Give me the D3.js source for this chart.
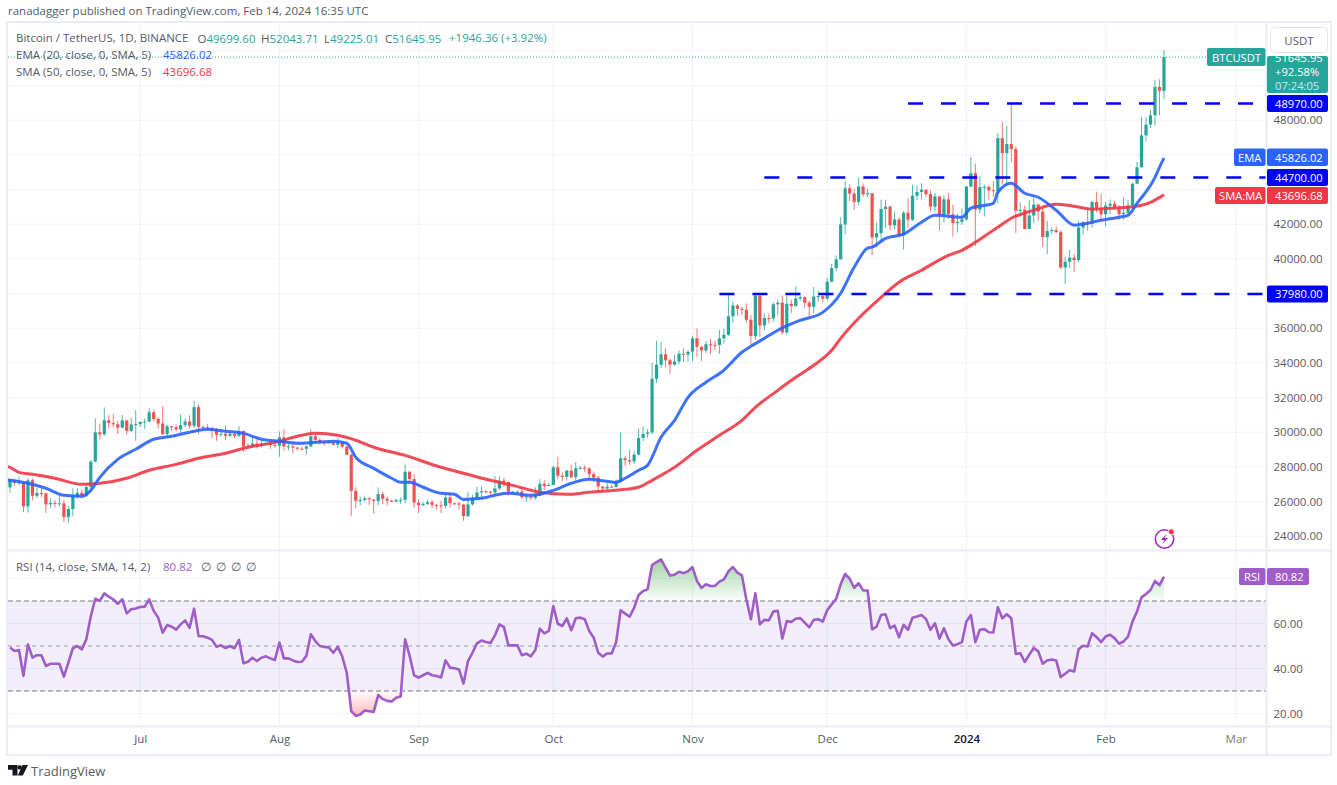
<!DOCTYPE html>
<html>
<head>
<meta charset="utf-8">
<script src="https://cdn.jsdelivr.net/npm/d3@7"></script>
<style>
html,body{margin:0;padding:0;background:#fff;overflow:hidden}
svg{display:block}
text{font-family:"Open Sans","Noto Sans",sans-serif}
</style>
</head>
<body>
<svg id="c" width="1337" height="785"></svg>
<script>
const firstDay = "2023-06-02";
const opens = [26820,27250,27075,27115,25730,27230,26340,26500,26480,25840,25925,25900,25900,25120,25575,26330,26510,26335,26840,28310,30000,29880,30690,30530,30460,30270,30690,30080,30450,
30470,30590,30620,31155,30770,30510,29895,30345,30290,30170,30410,30620,30380,31450,30310,30290,30230,30140,29860,29910,29800,29905,29795,30080,29175,29225,29350,29210,29315,29355,29275,
29230,29705,29185,29190,29115,29055,29050,29185,29765,29560,29425,29400,29415,29280,29410,29170,28700,26620,26050,26100,26190,26125,26050,26430,26160,26055,26010,26090,26105,27725,27300,
25940,25800,25870,25970,25815,25780,25755,26240,25905,25895,25830,25160,25840,26220,26530,26600,26570,26530,26760,27210,27130,26570,26575,26580,26250,26300,26215,26350,27030,26905,
26960,27980,27500,27430,27790,27410,27930,27955,27915,27590,27390,26875,26755,26860,26850,27155,28500,28395,28320,28715,29670,29910,29990,33085,33900,34500,34155,33900,34090,34530,34485,
34650,35420,34940,34720,35080,35045,35040,35420,35625,36690,37315,37130,37065,36490,35550,37880,36160,36595,36570,37385,37475,35760,37415,37290,37720,37795,37480,37240,37830,37855,
37710,38690,39475,39975,41990,44080,43770,43290,44180,43725,43790,41240,41490,42880,43020,41940,42280,41365,42660,42270,43650,43865,43995,43740,43015,43615,42520,43440,42580,42070,42140,
42285,44180,44945,42850,44150,44160,43965,43930,46970,46110,46630,46340,42780,42840,41730,42510,43140,42740,41260,41620,41665,41545,39505,39845,40075,39935,41815,42120,42030,43300,42940,
42580,43075,43185,42990,42580,42660,43090,44340,45290,47130,47750,48290,49920,49700];
const highs = [27300,27340,27450,27130,27350,27350,26800,26780,26530,26200,26090,26430,26080,25750,26770,26780,26700,27040,28400,30800,30500,31430,31000,31050,30660,31000,30700,30830,31280,
30650,30790,31380,31320,30880,31500,30450,30380,30450,31030,30800,30980,31820,31630,30400,30460,30340,30250,30190,30400,30050,29990,30350,30100,29380,29690,29580,29530,29415,29450,29530,
30050,30180,29410,29320,29150,29170,29245,30190,30000,29690,29540,29480,29470,29660,29480,29230,28780,26830,26290,26300,26260,26140,26820,26560,26290,26110,26180,26240,28140,27760,27580,
26130,25980,26130,26100,25860,26030,26440,26420,25940,25980,25880,26560,26390,26860,26890,26670,26630,27480,27490,27380,27160,26620,26640,26740,26450,26390,26820,27300,27230,27090,
28060,28580,27680,27830,28120,28290,28050,28100,27990,27740,27480,26840,27100,26980,27290,30000,28620,28980,28930,30210,30350,30200,34000,35280,35200,34820,34250,34480,34720,34850,34720,
35580,35980,34950,35260,35380,35280,35900,35990,37980,37530,37410,37230,37430,36770,37980,37980,36860,36850,37500,37650,37900,37870,37650,38420,37890,37840,37590,38380,38170,38000,
38890,39710,40200,42420,44490,44300,44050,44700,44360,44050,43800,42100,43430,43420,43090,42700,42430,42760,43500,44280,44240,44370,44000,43950,43800,43600,43680,43800,43130,42600,42900,
44190,45880,45500,44770,44300,44230,44500,47250,47900,47700,48970,46500,43250,43080,43400,43580,43200,42930,42200,41820,41880,41680,40130,40520,40300,42220,42200,42840,43300,43880,43750,
43290,43420,43380,43120,43540,43400,44400,45600,48200,48170,48590,50330,50370,52044];
const lows = [26510,26920,26950,25390,25360,26080,26200,26250,25350,25620,25660,25720,24820,24760,25170,26180,26170,26260,26660,28260,29600,29810,30250,30270,29900,30220,29880,30040,29500,
30310,30200,30580,30620,30200,29850,29700,30050,30060,29950,30280,30200,30250,29900,30250,30100,29660,29500,29750,29560,29720,29640,29730,28860,29050,29110,29070,29120,29260,29030,29110,
28585,28920,28960,28800,28960,28970,28700,29130,29350,29310,29240,29360,29260,29110,29060,28700,25170,25620,25800,26000,25810,25300,25800,25860,25780,25970,25970,25880,25910,27030,25660,
25330,25730,25810,25640,25560,25350,25620,25650,25800,25550,24900,25130,25770,26130,26220,26480,26390,26380,26680,26850,26350,26480,26500,26130,25990,26100,26110,26330,26670,26880,
26950,27300,27160,27210,27340,27180,27860,27690,27260,27120,26560,26560,26700,26820,26810,27130,28070,28130,28170,28670,29480,29680,29880,32850,33700,33740,33390,33860,33930,34050,34070,
34100,34350,34100,34580,34530,34730,34520,35110,35540,36330,36720,36760,36330,35050,35350,35510,35880,36290,36380,36740,35630,35630,36880,37250,37600,37160,36710,36880,37520,37500,
37630,38650,39290,39970,41420,43340,42820,43080,43580,43560,40220,40680,40970,41800,41650,41700,41250,40550,41800,42200,43390,43430,43580,42750,42720,41630,42100,42300,41300,41520,41970,
42190,44150,40750,42630,42450,43420,43600,43200,44300,44300,45600,41500,42430,41710,41720,42050,42200,40680,40280,41430,41500,39430,38550,39480,39260,39820,41400,41630,41800,42680,42280,
41880,42580,42880,42260,42260,42570,42790,44340,45250,46800,47560,47710,48300,49225];
const closes = [27250,27075,27115,25730,27230,26340,26500,26480,25840,25925,25900,25900,25120,25575,26330,26510,26335,26840,28310,30000,29880,30690,30530,30460,30270,30690,30080,30450,30470,
30590,30620,31155,30770,30510,29895,30345,30290,30170,30410,30620,30380,31450,30310,30290,30230,30140,29860,29910,29800,29905,29795,30080,29175,29225,29350,29210,29315,29355,29275,29230,
29705,29185,29190,29115,29055,29050,29185,29765,29560,29425,29400,29415,29280,29410,29170,28700,26620,26050,26100,26190,26125,26050,26430,26160,26055,26010,26090,26105,27725,27300,25940,
25800,25870,25970,25815,25780,25755,26240,25905,25895,25830,25160,25840,26220,26530,26600,26570,26530,26760,27210,27130,26570,26575,26580,26250,26300,26215,26350,27030,26905,26960,
27980,27500,27430,27790,27410,27930,27955,27915,27590,27390,26875,26755,26860,26850,27155,28500,28395,28320,28715,29670,29910,29990,33085,33900,34500,34155,33900,34090,34530,34485,34650,
35420,34940,34720,35080,35045,35040,35420,35625,36690,37315,37130,37065,36490,35550,37880,36160,36595,36570,37385,37475,35760,37415,37290,37720,37795,37480,37240,37830,37855,37710,
38690,39475,39975,41990,44080,43770,43290,44180,43725,43790,41240,41490,42880,43020,41940,42280,41365,42660,42270,43650,43865,43995,43740,43015,43615,42520,43440,42580,42070,42140,42285,
44180,44945,42850,44150,44160,43965,43930,46970,46110,46630,46340,42780,42840,41730,42510,43140,42740,41260,41620,41665,41545,39505,39845,40075,39935,41815,42120,42030,43300,42940,42580,
43075,43185,42990,42580,42660,43090,44340,45290,47130,47750,48290,49920,49700,51646];

const emaDays = [-1,0,4,8,12,16,18,20,24,28,32,36,40,44,48,52,56,60,64,68,72,75,77,81,85,87,89,92,96,99,101,105,108,111,116,121,125,129,133,135,137,140,142,145,148,151,155,159,163,165,168,171,176,181,185,188,191,192,195,199,203,206,212,214,219,220,223,226,229,233,237,240,243,247,249,251,255,256,257];
const emaValues = [27270,27230,27060,26770,26370,26310,26650,27400,28440,29020,29600,29770,30000,30170,30060,29940,29600,29480,29370,29420,29480,29370,28560,27920,27350,27120,27120,26830,26480,26420,26130,26190,26370,26480,26370,26650,27060,27290,27170,27120,27350,27810,28100,29710,30690,32020,32890,33580,34620,34960,35420,35890,36460,36920,38020,39520,40620,40680,41190,41430,42120,42520,42410,42930,43210,43850,44370,43790,43560,42810,41950,42060,42230,42410,42520,43210,44710,45290,45826];
const smaDays = [-1,0,2,5,10,16,20,26,31,37,42,48,53,59,65,68,73,77,81,88,96,101,107,112,118,124,129,137,140,143,148,153,158,163,166,171,175,179,183,185,189,194,198,203,209,212,215,218,220,223,228,233,237,241,245,249,254,257];
const smaValues = [28050,27980,27690,27580,27350,27000,27060,27350,27810,28150,28500,28790,29140,29420,29830,29940,29830,29540,29140,28670,27980,27640,27230,26940,26540,26420,26540,26710,26830,27230,27980,28960,29830,30690,31440,32420,33170,33870,34730,35420,36580,37790,38660,39350,40210,40500,40960,41480,41830,42350,42810,43160,43040,42870,42930,42980,43270,43697];

const rsiValues = [49.3,47.8,48.2,36.7,50.7,44.8,45.9,45.9,41.1,42.1,42.1,42.1,36.4,42.6,49,50,48.5,53,63.3,71,70,73.4,71.9,70.7,68.8,70.7,64.5,66.3,66.7,67.3,67.5,70.7,65.6,62.6,55.9,59.3,58.6,57.3,59.6,61.4,58.1,66.6,54.4,54.3,53.7,52.7,49.7,50.3,49.1,50,49,52.7,42.3,43,44.8,43.3,44.8,45.4,44.5,43.8,51.5,44.5,44.5,43.6,42.9,43,45.6,55.2,52.2,50,49.6,49.4,47,49.7,45.3,38.1,21.1,18.9,19.6,21.3,21,20.7,28.2,26.4,25.6,25.3,27,27.6,53,45.6,37,35.9,37,38.1,37,36.7,
36,43.6,40.4,40.1,39.6,33.3,43.3,47,51.2,52.4,51.8,51.3,54.7,59.6,58.4,50.3,50.3,50.3,45.9,46.6,45.4,48.2,57.7,55.6,56.7,67.8,59.9,58.9,62.3,57,62.3,62.6,61.9,56.7,53.7,47,45.3,46.7,46.7,51.8,65.9,64.4,63,67,72.7,74.4,75.2,86,87.3,88.5,84.8,81.3,81.7,83,82.4,83.2,85.1,78.9,75.8,77.4,76.7,76.7,78.6,79.6,83.2,85.1,82.6,81.4,70.7,61.9,73.4,59.6,61.6,61.4,65.3,65.6,53.3,61.1,60.7,62.1,62.4,60.4,58.3,61.6,61.9,60.8,65.9,68.5,71,77.4,82.1,79.9,75.9,77.9,74.7,74.7,57.4,58.6,
63.8,64.1,57.9,59.1,53.9,59.4,57.2,62.6,63.1,63.8,62,57.2,60.1,53.3,57.9,53,50.2,50.8,51.7,60.9,63.8,51.7,57.2,57.5,56.1,56,67.2,62.3,64.1,62.3,46.5,46.8,42.9,46.1,49.1,47.6,42.1,43.6,44,43.6,36.2,37.7,39.2,38.7,48.6,50.1,49.8,55.7,53.9,51.7,54.2,55,53.5,51,52,54.2,60.9,65.3,71.6,73.1,74.9,78.9,77.1,80.82];

const gridPrices = [24000,26000,28000,30000,32000,34000,36000,38000,40000,42000,44000,46000,48000,50000,52000];
const priceTicks = [24000,26000,28000,30000,32000,34000,36000,40000,42000,48000];
const rsiTicks = [20,40,60,80];
const rsiAxisTicks = [20,40,60];
const rsiLevels = [70,50,30];
const monthDates = ["2023-07-01","2023-08-01","2023-09-01","2023-10-01","2023-11-01","2023-12-01","2024-01-01","2024-02-01","2024-03-01"];
const monthLabels = ["Jul","Aug","Sep","Oct","Nov","Dec","2024","Feb","Mar"];
const levelValues = [48970,44700,37980];
const levelStartDays = [200,168,158];
const levelLabels = ["48970.00","44700.00","37980.00"];

const C = {up:"#26a69a",down:"#ef5350",ema:"#2962ff",sma:"#f23645",rsi:"#a05cc8",lvl:"#0000ff",grid:"#f0f3fa",frame:"#e9ecf3",txt:"#555a66"};
const L=8,R=1266,RR=1330,T=23,PB=550,RB=726,B=754;
const FS=11.5;

const svg=d3.select("#c");
const day=i=>d3.utcDay.offset(new Date(firstDay+"T00:00:00Z"),i);
const x=d3.scaleUtc().domain([new Date(firstDay+"T00:00:00Z"),new Date("2024-03-01T00:00:00Z")]).range([10,1235.8]);
const y=d3.scaleLinear().domain([24000,48000]).range([536.3,120.3]);
const yr=d3.scaleLinear().domain([20,80]).range([713.5,578.5]);
const X=i=>x(day(i));

const defs=svg.append("defs");
defs.append("clipPath").attr("id","pane").append("rect").attr("x",L).attr("y",T).attr("width",R-L).attr("height",PB-T);
defs.append("clipPath").attr("id","ob").append("rect").attr("x",L).attr("y",PB).attr("width",R-L).attr("height",yr(70)-PB);
defs.append("clipPath").attr("id","os").append("rect").attr("x",L).attr("y",yr(30)).attr("width",R-L).attr("height",RB-yr(30));
defs.append("clipPath").attr("id","priceBox").append("rect").attr("x",1267).attr("y",56).attr("width",61).attr("height",37);
const g1=defs.append("linearGradient").attr("id","gOb").attr("gradientUnits","userSpaceOnUse").attr("x1",0).attr("x2",0).attr("y1",yr(89)).attr("y2",yr(70));
g1.append("stop").attr("offset",0).attr("stop-color","#4caf50").attr("stop-opacity",.55);
g1.append("stop").attr("offset",1).attr("stop-color","#4caf50").attr("stop-opacity",.02);
const g2=defs.append("linearGradient").attr("id","gOs").attr("gradientUnits","userSpaceOnUse").attr("x1",0).attr("x2",0).attr("y1",yr(30)).attr("y2",yr(19));
g2.append("stop").attr("offset",0).attr("stop-color","#ff5252").attr("stop-opacity",.02);
g2.append("stop").attr("offset",1).attr("stop-color","#ff5252").attr("stop-opacity",.4);

/* grid */
const grid=svg.append("g").attr("stroke",C.grid).attr("stroke-width",1.2);
monthDates.forEach(d=>{const px=x(new Date(d+"T00:00:00Z"));
  grid.append("line").attr("x1",px).attr("x2",px).attr("y1",T).attr("y2",RB);});
gridPrices.forEach(v=>grid.append("line").attr("x1",L).attr("x2",R).attr("y1",y(v)).attr("y2",y(v)));
rsiTicks.forEach(v=>grid.append("line").attr("x1",L).attr("x2",R).attr("y1",yr(v)).attr("y2",yr(v)));

/* last price dotted */
svg.append("line").attr("x1",L).attr("x2",1208).attr("y1",y(closes[closes.length-1])).attr("y2",y(closes[closes.length-1]))
  .attr("stroke",C.up).attr("stroke-width",1).attr("stroke-dasharray","1 2");

/* candles */
const pane=svg.append("g").attr("clip-path","url(#pane)");
const idx=d3.range(closes.length);
pane.selectAll("line.w").data(idx).join("line").attr("class","w")
  .attr("x1",X).attr("x2",X).attr("y1",i=>y(highs[i])).attr("y2",i=>y(lows[i]))
  .attr("stroke",i=>closes[i]>=opens[i]?C.up:C.down).attr("stroke-width",1).attr("stroke-opacity",.8);
pane.selectAll("rect.b").data(idx).join("rect").attr("class","b")
  .attr("x",i=>X(i)-1.6).attr("width",3.2)
  .attr("y",i=>y(Math.max(opens[i],closes[i])))
  .attr("height",i=>Math.max(1,Math.abs(y(opens[i])-y(closes[i]))))
  .attr("fill",i=>closes[i]>=opens[i]?C.up:C.down);

/* moving averages */
const lineFor=(days,vals)=>d3.line().x(i=>X(days[i])).y(i=>y(vals[i])).curve(d3.curveMonotoneX)(d3.range(days.length));
pane.append("path").attr("d",lineFor(smaDays,smaValues)).attr("fill","none").attr("stroke",C.sma).attr("stroke-width",3).attr("stroke-opacity",.9);
pane.append("path").attr("d",lineFor(emaDays,emaValues)).attr("fill","none").attr("stroke",C.ema).attr("stroke-width",3).attr("stroke-opacity",.9);

levelValues.forEach((v,k)=>{
  pane.append("line").attr("x1",X(levelStartDays[k])).attr("x2",R).attr("y1",y(v)).attr("y2",y(v))
   .attr("stroke",C.lvl).attr("stroke-width",2.6).attr("stroke-dasharray","15 18");
});

/* RSI */
svg.append("rect").attr("x",L).attr("width",R-L).attr("y",yr(70)).attr("height",yr(30)-yr(70)).attr("fill","#7e57c2").attr("fill-opacity",.1);
rsiLevels.forEach(v=>svg.append("line").attr("x1",L).attr("x2",R).attr("y1",yr(v)).attr("y2",yr(v))
  .attr("stroke","#787b86").attr("stroke-width",1).attr("stroke-dasharray",v==50?"4 4":"5 3").attr("stroke-opacity",v==50?.7:1));
const ra=d3.area().x(X).y0(yr(70)).y1(i=>yr(rsiValues[i]));
svg.append("path").attr("d",ra(idx)).attr("fill","url(#gOb)").attr("clip-path","url(#ob)");
const rb=d3.area().x(X).y0(yr(30)).y1(i=>yr(rsiValues[i]));
svg.append("path").attr("d",rb(idx)).attr("fill","url(#gOs)").attr("clip-path","url(#os)");
svg.append("path").attr("d",d3.line().x(X).y(i=>yr(rsiValues[i]))(idx)).attr("fill","none").attr("stroke",C.rsi).attr("stroke-width",2.6).attr("stroke-linejoin","round");

/* frame */
const fr=svg.append("g").attr("stroke",C.frame).attr("stroke-width",2).attr("fill","none");
fr.append("rect").attr("x",L-1).attr("y",T-1).attr("width",RR-L+2).attr("height",B-T+2);
fr.append("line").attr("x1",L).attr("x2",RR).attr("y1",PB+.5).attr("y2",PB+.5);
fr.append("line").attr("x1",L).attr("x2",RR).attr("y1",RB+.5).attr("y2",RB+.5);
fr.append("line").attr("x1",R+.5).attr("x2",R+.5).attr("y1",T).attr("y2",B);

/* axes */
const axR=d3.axisRight(y).tickValues(priceTicks).tickSize(0).tickPadding(7).tickFormat(d=>d.toFixed(2));
const ga=svg.append("g").attr("transform",`translate(${R+.5},0)`).call(axR);
const axRs=d3.axisRight(yr).tickValues(rsiAxisTicks).tickSize(0).tickPadding(7).tickFormat(d=>d.toFixed(2));
const gr=svg.append("g").attr("transform",`translate(${R+.5},0)`).call(axRs);
const axB=d3.axisBottom(x).tickValues(monthDates.map(d=>new Date(d+"T00:00:00Z"))).tickSize(0).tickPadding(9).tickFormat((d,i)=>monthLabels[i]);
const gb=svg.append("g").attr("transform",`translate(0,${RB})`).call(axB);
[ga,gr,gb].forEach(g=>{g.select(".domain").remove();g.selectAll("text").attr("fill",C.txt).style("font-size",FS+"px").style("font-family",'"Open Sans",sans-serif');});
gb.selectAll("text").filter((d,i)=>monthLabels[i]=="2024").attr("fill","#131722").style("font-weight",600);
gb.selectAll("text").filter((d,i)=>monthLabels[i]=="Mar").attr("fill","#787b86");

/* header texts */
const T1=(px,py,s,fill,size,anchor)=>svg.append("text").attr("x",px).attr("y",py).text(s).attr("fill",fill||C.txt).style("font-size",(size||FS)+"px").attr("text-anchor",anchor||"start").attr("dominant-baseline","central");
T1(8,10.5,"ranadagger published on TradingView.com, Feb 14, 2024 16:35 UTC","#555a66",11.5);
T1(16,37.5,"Bitcoin / TetherUS, 1D, BINANCE");
[["O",197.5,"49699.60"],["H",261,"52043.71"],["L",324,"49225.01"],["C",385,"51645.95"]].forEach(d=>{
  const t=svg.append("text").attr("x",d[1]).attr("y",37.5).attr("dominant-baseline","central").style("font-size",FS+"px");
  t.append("tspan").attr("fill",C.txt).text(d[0]); t.append("tspan").attr("fill",C.up).text(d[2]);
});
T1(449,37.5,"+1946.36 (+3.92%)",C.up);
T1(16,54,"EMA (20, close, 0, SMA, 5)");
T1(163,54,"45826.02",C.ema);
T1(16,71,"SMA (50, close, 0, SMA, 5)");
T1(163,71,"43696.68",C.sma);
T1(16,566,"RSI (14, close, SMA, 14, 2)");
T1(163,566,"80.82",C.rsi);
[201,216,231,246].forEach(px=>T1(px,566,"∅",C.txt));

/* right-hand labels */
const box=(x0,x1,y0,y1,fill)=>svg.append("rect").attr("x",x0).attr("y",y0).attr("width",x1-x0).attr("height",y1-y0).attr("rx",2).attr("fill",fill);
const lbl=(px,py,s,fill,op)=>T1(px,py,s,fill||"#fff",11.2).attr("opacity",op||1);
box(1267,1328,56,93,C.up);
lbl(1275,57,"51645.95").attr("clip-path","url(#priceBox)");
lbl(1275,71,"+92.58%");
lbl(1275,85,"07:24:05","#fff",.75);
box(1207,1265.5,48,66,C.up); lbl(1212,57,"BTCUSDT");
levelValues.forEach((v,k)=>{const py=y(v);box(1267,1328,py-8.5,py+8.5,C.lvl);lbl(1275,py,levelLabels[k]);});
box(1234,1265.5,148.5,166,C.ema); lbl(1238,157.5,"EMA");
box(1267,1328,148.5,166,C.ema); lbl(1275,157.5,"45826.02");
box(1215,1265.5,187,204,C.sma); lbl(1219,195.5,"SMA:MA");
box(1267,1328,187,204,C.sma); lbl(1275,195.5,"43696.68");
box(1239,1265.5,568,585,C.rsi); lbl(1244,576.5,"RSI");
box(1267,1309,568,585,C.rsi); lbl(1275,576.5,"80.82");
/* USDT button */
svg.append("rect").attr("x",1270.5).attr("y",27.5).attr("width",57).attr("height",25).attr("rx",4).attr("fill","#fff").attr("stroke","#e0e3eb");
T1(1299,40.5,"USDT","#555a66",11.5,"middle");

/* lightning badge */
const b=svg.append("g").attr("transform","translate(1164.5,539)");
b.append("circle").attr("r",9.2).attr("fill","#fff").attr("stroke","#9c27b0").attr("stroke-width",1.5);
b.append("path").attr("d","M2.5-5.5L-3.5,1H0L-2.5,5.5L3.5-1H0Z").attr("fill","#9c27b0");
b.append("circle").attr("cx",6.8).attr("cy",-7.2).attr("r",3).attr("fill","#f23645").attr("stroke","#fff").attr("stroke-width",.8);

/* TradingView logo */
const lg=svg.append("g").attr("transform","translate(8,765)").attr("fill","#131722");
lg.append("path").attr("d","M0 0H9.5V10.5H4.5V4.8H0ZM14.5 0H20L14.8 10.5H9.8Z");
lg.append("circle").attr("cx",11.8).attr("cy",2.4).attr("r",2.2);
T1(31,771,"TradingView","#555a66",13);
</script>
</body>
</html>
